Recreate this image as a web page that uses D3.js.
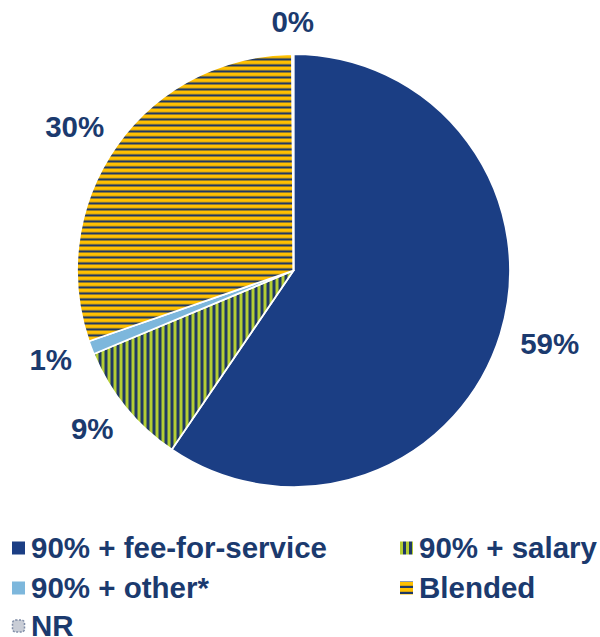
<!DOCTYPE html>
<html>
<head>
<meta charset="utf-8">
<script src="https://cdn.jsdelivr.net/npm/d3@7"></script>
<style>
  html, body { margin: 0; padding: 0; background: #fff; }
  svg { display: block; }
</style>
</head>
<body>
<svg id="chart" width="600" height="637"></svg>
<script>
const categories = ["90% + fee-for-service", "90% + salary", "90% + other*", "Blended", "NR"];
const values = [59.5, 9.2, 1.0, 30.2, 0.1];
const valueLabels = ["59%", "9%", "1%", "30%", "0%"];
const fills = ["#1B3E84", "url(#vstripe)", "#7DB7DC", "url(#hstripe)", "#C9CDD6"];

const textColor = "#1B3A6E";
const svg = d3.select("#chart");
const defs = svg.append("defs");

// horizontal stripes (Blended)
const hp = defs.append("pattern").attr("id", "hstripe")
  .attr("patternUnits", "userSpaceOnUse").attr("width", 6).attr("height", 6);
hp.append("rect").attr("width", 6).attr("height", 6).attr("fill", "#FFC000");
hp.append("rect").attr("y", 3.8).attr("width", 6).attr("height", 2.2).attr("fill", "#1F3864");
// vertical stripes (salary)
const vp = defs.append("pattern").attr("id", "vstripe")
  .attr("patternUnits", "userSpaceOnUse").attr("width", 6).attr("height", 6);
vp.append("rect").attr("width", 6).attr("height", 6).attr("fill", "#B3CD34");
vp.append("rect").attr("x", 3).attr("width", 3).attr("height", 6).attr("fill", "#1F3864");

const cx = 293.5, cy = 270.5, r = 216.5;
const g = svg.append("g").attr("transform", `translate(${cx},${cy})`);

const pie = d3.pie().sort(null).value(d => d)(values);
const arc = d3.arc().innerRadius(0).outerRadius(r);

g.selectAll("path.slice").data(pie).enter().append("path")
  .attr("class", "slice")
  .attr("d", arc)
  .attr("fill", (d, i) => fills[i])
  .attr("stroke", "#fff")
  .attr("stroke-width", 1.8)
  .attr("stroke-linejoin", "round");

const fontSize = 29.5;
// data labels placed outside end
const gap = 22, capH = 21;
pie.forEach((d, i) => {
  const a = (d.startAngle + d.endAngle) / 2;
  const t = g.append("text")
    .attr("font-family", "Liberation Sans, Arial, sans-serif")
    .attr("font-weight", "bold")
    .attr("font-size", fontSize)
    .attr("fill", textColor)
    .attr("text-anchor", "middle")
    .text(valueLabels[i]);
  const w = t.node().getComputedTextLength();
  const R = r + gap;
  const x = Math.sin(a) * (R + w / 2);
  const y = -Math.cos(a) * (R + capH / 2);
  t.attr("x", x).attr("y", y + capH / 2);
});

// legend
const legendPos = [
  {x: 12, y: 548}, {x: 400, y: 548},
  {x: 12, y: 588}, {x: 400, y: 588},
  {x: 12, y: 626}
];
const lg = svg.append("g");
categories.forEach((c, i) => {
  const p = legendPos[i];
  const item = lg.append("g").attr("transform", `translate(${p.x},${p.y})`);
  if (i === 4) {
    item.append("rect").attr("x", 0.5).attr("y", -6).attr("width", 12).attr("height", 12)
      .attr("rx", 3).attr("fill", "#C9CDD6")
      .attr("stroke", "#7F8CA6").attr("stroke-width", 1.5).attr("stroke-dasharray", "2,1.5");
  } else {
    item.append("rect").attr("x", 0).attr("y", -6.5).attr("width", 13).attr("height", 13)
      .attr("fill", fills[i]);
  }
  item.append("text")
    .attr("x", 19).attr("y", 9.5)
    .attr("font-family", "Liberation Sans, Arial, sans-serif")
    .attr("font-weight", "bold")
    .attr("font-size", fontSize)
    .attr("fill", textColor)
    .text(c);
});
</script>
</body>
</html>
